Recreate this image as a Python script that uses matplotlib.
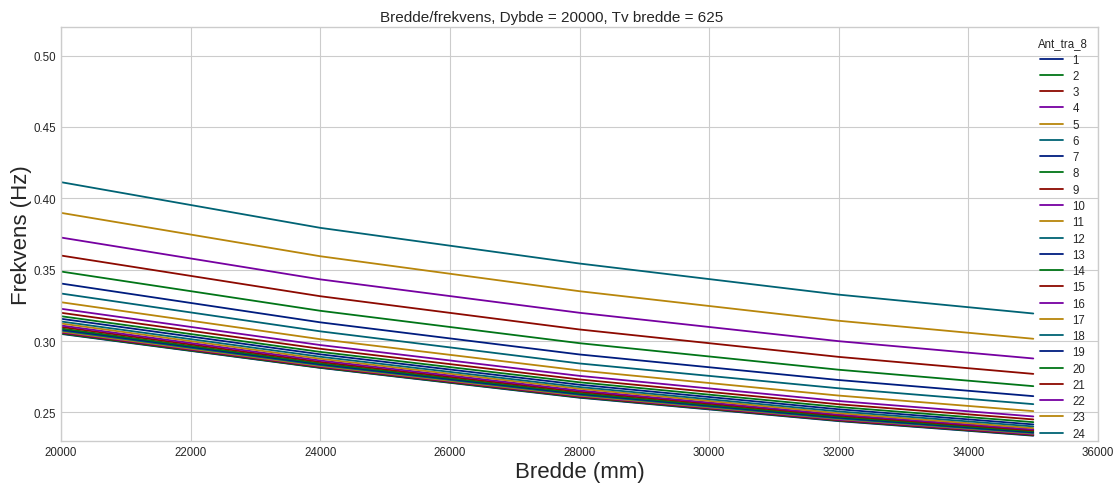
import numpy as np
import matplotlib.pyplot as plt

plt.style.use(['seaborn-v0_8-whitegrid', 'seaborn-v0_8-dark-palette'])

# number of beams (legend entries) and beam widths along the x axis
ant_tra = list(range(1, 25))
bredde = [20000, 24000, 28000, 32000, 35000]

# frequency (Hz) of each configuration 1..24 at every width in `bredde`
f_20000 = [0.3050, 0.3053, 0.3058, 0.3062, 0.3067, 0.3074, 0.3081, 0.3088,
           0.3099, 0.3109, 0.3123, 0.3137, 0.3156, 0.3174, 0.3198, 0.3226,
           0.3272, 0.3333, 0.3403, 0.3487, 0.3599, 0.3725, 0.3898, 0.4113]
f_24000 = [0.2812, 0.2814, 0.2818, 0.2822, 0.2826, 0.2832, 0.2838, 0.2845,
           0.2854, 0.2864, 0.2876, 0.2890, 0.2907, 0.2924, 0.2946, 0.2972,
           0.3013, 0.3068, 0.3131, 0.3212, 0.3314, 0.3432, 0.3594, 0.3793]
f_28000 = [0.2603, 0.2606, 0.2610, 0.2614, 0.2618, 0.2624, 0.2630, 0.2636,
           0.2645, 0.2654, 0.2666, 0.2678, 0.2694, 0.2711, 0.2731, 0.2756,
           0.2794, 0.2843, 0.2906, 0.2985, 0.3081, 0.3198, 0.3349, 0.3543]
f_32000 = [0.2439, 0.2442, 0.2445, 0.2449, 0.2454, 0.2458, 0.2464, 0.2470,
           0.2478, 0.2485, 0.2495, 0.2507, 0.2522, 0.2538, 0.2557, 0.2580,
           0.2618, 0.2669, 0.2727, 0.2799, 0.2889, 0.2999, 0.3142, 0.3325]
f_35000 = [0.2337, 0.2340, 0.2343, 0.2347, 0.2352, 0.2356, 0.2361, 0.2367,
           0.2374, 0.2381, 0.2390, 0.2402, 0.2416, 0.2432, 0.2451, 0.2472,
           0.2509, 0.2558, 0.2614, 0.2684, 0.2770, 0.2878, 0.3016, 0.3193]

frekvens = np.array([f_20000, f_24000, f_28000, f_32000, f_35000])

fig = plt.figure(figsize=(11.18, 4.85), dpi=100)
ax = fig.add_axes([0.0546, 0.0887, 0.9276, 0.8536])

for i, n in enumerate(ant_tra):
    ax.plot(bredde, frekvens[:, i], lw=1.3, label=str(n))

ax.set_xlim(20000, 36000)
ax.set_ylim(0.23, 0.52)
fig.text(0.4937, 0.962, 'Bredde/frekvens, Dybde = 20000, Tv bredde = 625',
         fontsize=11, ha='center', va='center', color='0.15')
ax.set_xlabel('Bredde (mm)', fontsize=16, labelpad=2)
ax.set_ylabel('Frekvens (Hz)', fontsize=16, labelpad=1)
ax.tick_params(labelsize=8.3)
ax.legend(title='Ant_tra_8', loc='upper right', fontsize=8.3,
          title_fontsize=8.3, frameon=False, labelspacing=0.37)

fig.savefig('out.png', dpi=100)
